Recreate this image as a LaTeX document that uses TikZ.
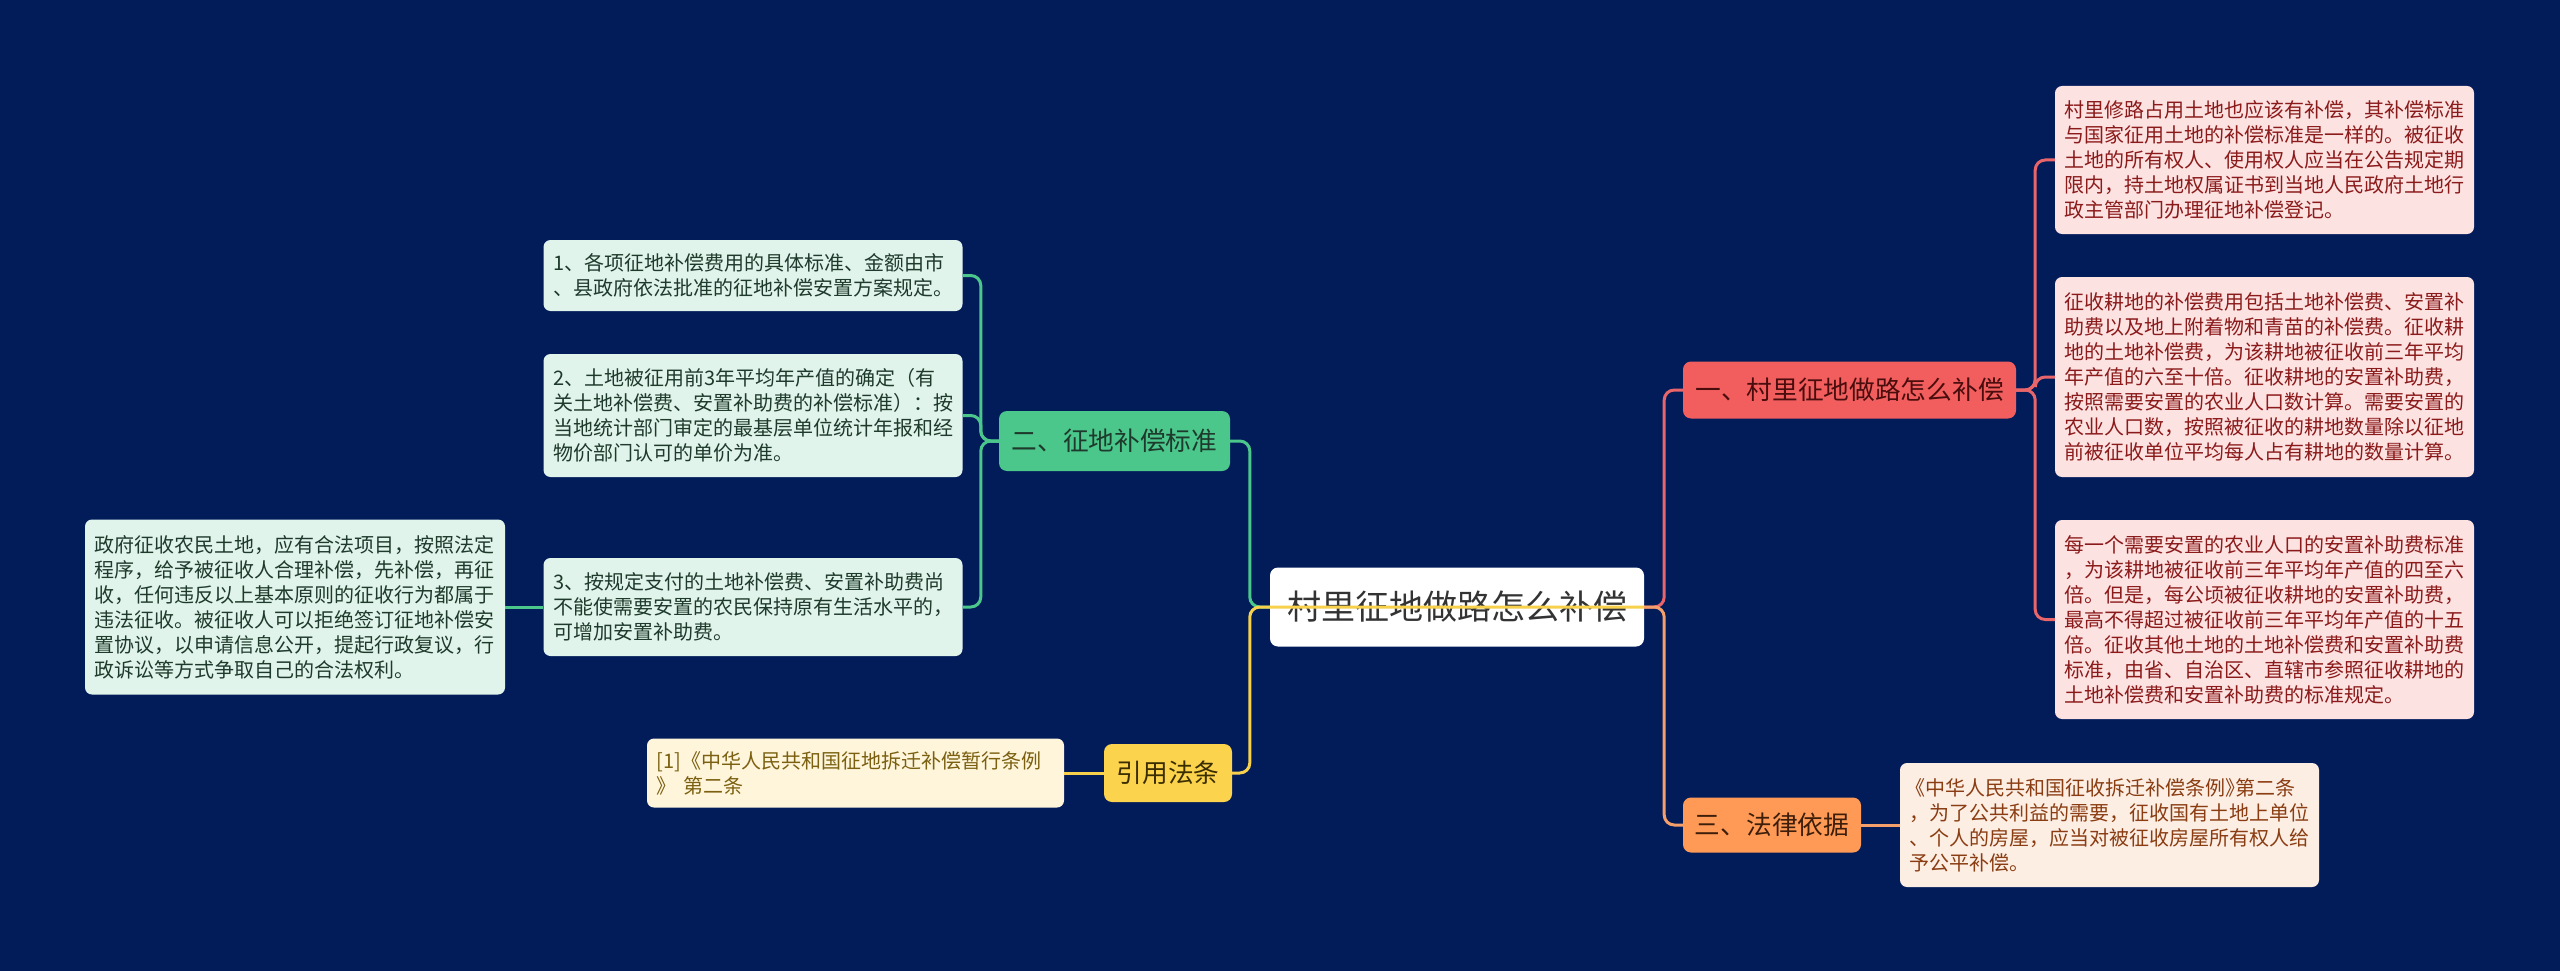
\documentclass[tikz,border=0pt]{standalone}
\usepackage{fontspec}
\setmainfont{Noto Sans CJK SC}
\definecolor{bg}{HTML}{021C5A}
\definecolor{gline}{HTML}{4CC78C}
\definecolor{gleaf}{HTML}{E1F4EB}
\definecolor{gtext}{HTML}{1E3A2C}
\definecolor{rline}{HTML}{E8656A}
\definecolor{rnode}{HTML}{F25E5E}
\definecolor{rleaf}{HTML}{FDE2E2}
\definecolor{rtext}{HTML}{8B1A1A}
\definecolor{rntext}{HTML}{4A0D0D}
\definecolor{oline}{HTML}{F5A06B}
\definecolor{onode}{HTML}{FF9A56}
\definecolor{oleaf}{HTML}{FDEEE4}
\definecolor{otext}{HTML}{8A3D12}
\definecolor{ontext}{HTML}{3D1E0A}
\definecolor{yline}{HTML}{F7D04C}
\definecolor{ynode}{HTML}{FCD34D}
\definecolor{yleaf}{HTML}{FFF5DA}
\definecolor{ytext}{HTML}{7A6010}
\definecolor{yntext}{HTML}{3A2E00}
\definecolor{ctext}{HTML}{333333}
\newcommand\leaffont{\fontsize{20}{25}\selectfont}
\newcommand\branchfont{\fontsize{25.7}{30}\selectfont}
\newcommand\centerfont{\fontsize{34}{40}\selectfont}
\begin{document}
\begin{tikzpicture}[x=1pt,y=-1pt,
  conn/.style={line width=3pt, rounded corners=10pt},
  box/.style={rounded corners=8pt, inner sep=0pt, align=center},
  branch/.style={box, font=\branchfont},
  leaf/.style={rounded corners=7pt, inner xsep=9.5pt, inner ysep=0pt, text width=400pt, align=left, font=\leaffont},
  gleafst/.style={leaf, fill=gleaf, text=gtext},
  rleafst/.style={leaf, fill=rleaf, text=rtext},
  oleafst/.style={leaf, fill=oleaf, text=otext},
  yleafst/.style={leaf, fill=yleaf, text=ytext}]
\fill[bg] (0,0) rectangle (2560,971);
\useasboundingbox (0,0) rectangle (2560,971);

% central and branch nodes
\node[box, fill=white, text=ctext, font=\centerfont, minimum width=374pt, minimum height=79pt] (C) at (1457,607) {村里征地做路怎么补偿};
\node[branch, fill=gline, text=gtext, minimum width=231pt, minimum height=60pt] (G) at (1114.5,441) {二、征地补偿标准};
\node[branch, fill=ynode, text=yntext, minimum width=128pt, minimum height=58pt] (Y) at (1168,773) {引用法条};
\node[branch, fill=rnode, text=rntext, minimum width=333pt, minimum height=57pt] (R) at (1849.5,390) {一、村里征地做路怎么补偿};
\node[branch, fill=onode, text=ontext, minimum width=178pt, minimum height=55pt] (O) at (1772,825) {三、法律依据};

% green leaves
\node[gleafst, minimum height=71pt] (L1) at (753,275.5) {1、各项征地补偿费用的具体标准、金额由市\\、县政府依法批准的征地补偿安置方案规定。};
\node[gleafst, minimum height=123pt] (L2) at (753,415.5) {2、土地被征用前3年平均年产值的确定（有\\关土地补偿费、安置补助费的补偿标准）：按\\当地统计部门审定的最基层单位统计年报和经\\物价部门认可的单价为准。};
\node[gleafst, minimum height=98pt] (L3) at (753,607) {3、按规定支付的土地补偿费、安置补助费尚\\不能使需要安置的农民保持原有生活水平的，\\可增加安置补助费。};
\node[gleafst, text width=401pt, minimum height=175pt] (F) at (295,607) {政府征收农民土地，应有合法项目，按照法定\\程序，给予被征收人合理补偿，先补偿，再征\\收，任何违反以上基本原则的征收行为都属于\\违法征收。被征收人可以拒绝签订征地补偿安\\置协议，以申请信息公开，提起行政复议，行\\政诉讼等方式争取自己的合法权利。};

% yellow leaf
\node[yleafst, text width=398pt, minimum height=69pt] (YL) at (855.5,773) {[1]《中华人民共和国征地拆迁补偿暂行条例\\》 第二条};

% red leaves
\node[rleafst, minimum height=148pt] (R1) at (2264.5,160) {村里修路占用土地也应该有补偿，其补偿标准\\与国家征用土地的补偿标准是一样的。被征收\\土地的所有权人、使用权人应当在公告规定期\\限内，持土地权属证书到当地人民政府土地行\\政主管部门办理征地补偿登记。};
\node[rleafst, minimum height=200pt] (R2) at (2264.5,377) {征收耕地的补偿费用包括土地补偿费、安置补\\助费以及地上附着物和青苗的补偿费。征收耕\\地的土地补偿费，为该耕地被征收前三年平均\\年产值的六至十倍。征收耕地的安置补助费，\\按照需要安置的农业人口数计算。需要安置的\\农业人口数，按照被征收的耕地数量除以征地\\前被征收单位平均每人占有耕地的数量计算。};
\node[rleafst, minimum height=199pt] (R3) at (2264.5,619.5) {每一个需要安置的农业人口的安置补助费标准\\，为该耕地被征收前三年平均年产值的四至六\\倍。但是，每公顷被征收耕地的安置补助费，\\最高不得超过被征收前三年平均年产值的十五\\倍。征收其他土地的土地补偿费和安置补助费\\标准，由省、自治区、直辖市参照征收耕地的\\土地补偿费和安置补助费的标准规定。};

% orange leaf
\node[oleafst, minimum height=124pt] (O1) at (2109.5,825) {\kern-4pt《中华人民共和国征收拆迁补偿条例》\kern-10pt第二条\\，为了公共利益的需要，征收国有土地上单位\\、个人的房屋，应当对被征收房屋所有权人给\\予公平补偿。};

% connectors
\draw[conn, gline] (C.west) -- ++(-20,0) |- (G.east);
\draw[conn, gline] (G.west) -- ++(-18,0) |- (L1.east);
\draw[conn, gline] (G.west) -- ++(-18,0) |- (L2.east);
\draw[conn, gline] (G.west) -- ++(-18,0) |- (L3.east);
\draw[conn, gline] (L3.west) -- (F.east);
\draw[conn, rline] (C.east) -- ++(20,0) |- (R.west);
\draw[conn, oline] (C.east) -- ++(20,0) |- (O.west);
\draw[conn, rline] (R.east) -- ++(19,0) |- (R1.west);
\draw[conn, rline] (R.east) -- ++(19,0) |- (R2.west);
\draw[conn, rline] (R.east) -- ++(19,0) |- (R3.west);
\draw[conn, oline] (O.east) -- (O1.west);
\draw[conn, yline] (Y.west) -- (YL.east);
% yellow connector drawn over the central node
\draw[conn, yline] (C.east) -- (C.west) -- ++(-20,0) |- (Y.east);
\end{tikzpicture}
\end{document}
